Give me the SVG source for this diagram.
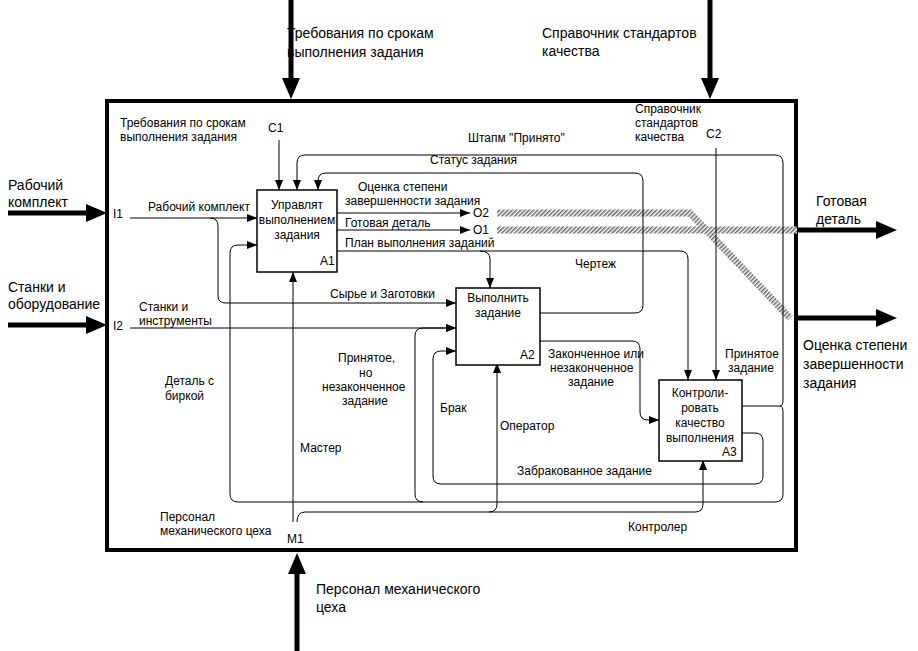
<svg xmlns="http://www.w3.org/2000/svg" width="918" height="651" viewBox="0 0 918 651">
<style>
text{font-family:"Liberation Sans",Arial,sans-serif;font-size:12px;fill:#000}
.big{font-size:14px}
.ln{fill:none;stroke:#000;stroke-width:1}
.th{fill:none;stroke:#000;stroke-width:5}
.box{fill:#fff;stroke:#000;stroke-width:1.5}
.hat{fill:none;stroke:url(#hp);stroke-width:7}
</style>
<defs>
<marker id="a" markerWidth="10" markerHeight="8" refX="10" refY="4" orient="auto" markerUnits="userSpaceOnUse"><path d="M0,0L10,4L0,8z"/></marker>
<pattern id="hp" width="3" height="3" patternUnits="userSpaceOnUse" patternTransform="rotate(45)"><rect width="3" height="3" fill="#fff"/><rect width="1.5" height="3" fill="#666"/></pattern>
</defs>
<rect width="918" height="651" fill="#fff"/>
<rect x="107" y="101" width="689" height="449" fill="none" stroke="#000" stroke-width="4"/>
<g id="connectors">
<path class="th" d="M291,0V80"/><path d="M282,78H300L291,99z"/>
<path class="th" d="M710,0V80"/><path d="M701,78H719L710,99z"/>
<path class="th" d="M8,213H88"/><path d="M86,204V222L107,213z"/>
<path class="th" d="M8,325H88"/><path d="M86,316V334L107,325z"/>
<path class="th" d="M798,230H878"/><path d="M876,221V239L897,230z"/>
<path class="th" d="M798,318H878"/><path d="M876,309V327L897,318z"/>
<path class="th" d="M297,651V572"/><path d="M288,574H306L297,553z"/>
<path class="hat" d="M497,213H690L790,318"/>
<path class="hat" d="M497,230H797"/>
<path class="ln" d="M130,218H257" marker-end="url(#a)"/>
<path class="ln" d="M210,218Q218,218 218,226V296Q218,303 226,303H456" marker-end="url(#a)"/>
<path class="ln" d="M130,328H456" marker-end="url(#a)"/>
<path class="ln" d="M279,140V190" marker-end="url(#a)"/>
<path class="ln" d="M780,406Q783,406 783,400V163Q783,155 775,155H305Q297,155 297,163V190" marker-end="url(#a)"/>
<path class="ln" d="M540,313H635Q643,313 643,305V181Q643,173 635,173H326Q318,173 318,181V190" marker-end="url(#a)"/>
<path class="ln" d="M337,213H470" marker-end="url(#a)"/>
<path class="ln" d="M337,230H470" marker-end="url(#a)"/>
<path class="ln" d="M337,251H480Q490,251 490,259V288" marker-end="url(#a)"/>
<path class="ln" d="M480,251H680Q688,251 688,259V380" marker-end="url(#a)"/>
<path class="ln" d="M716,148V380" marker-end="url(#a)"/>
<path class="ln" d="M540,341H632Q640,341 640,349V412Q640,420 648,420H659" marker-end="url(#a)"/>
<path class="ln" d="M742,406H780Q783,406 783,412V494Q783,502 775,502H238Q230,502 230,494V253Q230,245 238,245H257" marker-end="url(#a)"/>
<path class="ln" d="M423,502Q415,502 415,494V336Q415,328 423,328H456" marker-end="url(#a)"/>
<path class="ln" d="M742,433H755Q763,433 763,441V476Q763,484 755,484H441Q433,484 433,476V359Q433,351 441,351H456" marker-end="url(#a)"/>
<path class="ln" d="M293,522V272" marker-end="url(#a)"/>
<path class="ln" d="M297,522Q297,512 305,512H489Q497,512 497,504V363" marker-end="url(#a)"/>
<path class="ln" d="M489,512H695Q703,512 703,504V460" marker-end="url(#a)"/>
</g>
<g id="A1"><rect class="box" x="257" y="190" width="80" height="82"/>
<text x="297" y="209" text-anchor="middle">Управлят</text><text x="297" y="224" text-anchor="middle">выполнением</text><text x="297" y="239" text-anchor="middle">задания</text><text x="320" y="265">A1</text></g>
<g id="A2"><rect class="box" x="456" y="288" width="84" height="77"/>
<text x="498" y="302" text-anchor="middle">Выполнить</text><text x="498" y="317" text-anchor="middle">задание</text><text x="520" y="359">A2</text></g>
<g id="A3"><rect class="box" x="659" y="380" width="83" height="81"/>
<text x="700" y="397" text-anchor="middle">Контроли-</text><text x="700" y="412" text-anchor="middle">ровать</text><text x="700" y="427" text-anchor="middle">качество</text><text x="700" y="442" text-anchor="middle">выполнения</text><text x="722" y="456">A3</text></g>
<g id="labels">
<text class="big" x="287" y="38">Требования по срокам</text><text class="big" x="287" y="57">выполнения  задания</text>
<text class="big" x="542" y="38">Справочник стандартов</text><text class="big" x="542" y="56">качества</text>
<text class="big" x="8" y="190">Рабочий</text><text class="big" x="8" y="207">комплект</text>
<text class="big" x="8" y="292">Станки и</text><text class="big" x="8" y="309">оборудование</text>
<text class="big" x="816" y="206">Готовая</text><text class="big" x="816" y="224">деталь</text>
<text class="big" x="803" y="350">Оценка степени</text><text class="big" x="803" y="369">завершенности</text><text class="big" x="803" y="388">задания</text>
<text class="big" x="316" y="594">Персонал механического</text><text class="big" x="316" y="612">цеха</text>
<text x="120" y="127">Требования по срокам</text><text x="120" y="141">выполнения задания</text>
<text x="268" y="132">C1</text>
<text x="113" y="218">I1</text><text x="113" y="330">I2</text>
<text x="148" y="211">Рабочий комплект</text>
<text x="139" y="311">Станки и</text><text x="139" y="325">инструменты</text>
<text x="330" y="298">Сырье и Заготовки</text>
<text x="468" y="142">Штапм "Принято"</text>
<text x="430" y="164">Статус задания</text>
<text x="358" y="191">Оценка степени</text><text x="345" y="205">завершенности задания</text>
<text x="345" y="227">Готовая  деталь</text>
<text x="345" y="247">План выполнения заданий</text>
<text x="473" y="217" font-size="13">O2</text><text x="473" y="234" font-size="13">O1</text>
<text x="575" y="268">Чертеж</text>
<text x="635" y="113">Справочник</text><text x="635" y="127">стандартов</text><text x="635" y="141">качества</text>
<text x="706" y="138">C2</text>
<text x="548" y="358">Законченное или</text><text x="550" y="372">незаконченное</text><text x="568" y="386">задание</text>
<text x="725" y="358">Принятое</text><text x="728" y="372">задание</text>
<text x="338" y="362">Принятое,</text><text x="359" y="377">но</text><text x="322" y="391">незаконченное</text><text x="342" y="405">задание</text>
<text x="165" y="385">Деталь с</text><text x="165" y="400">биркой</text>
<text x="440" y="412">Брак</text>
<text x="500" y="430">Оператор</text>
<text x="300" y="452">Мастер</text>
<text x="517" y="475">Забракованное задание</text>
<text x="160" y="521">Персонал</text><text x="160" y="535">механического цеха</text>
<text x="287" y="543">M1</text>
<text x="628" y="531">Контролер</text>
</g>
</svg>
